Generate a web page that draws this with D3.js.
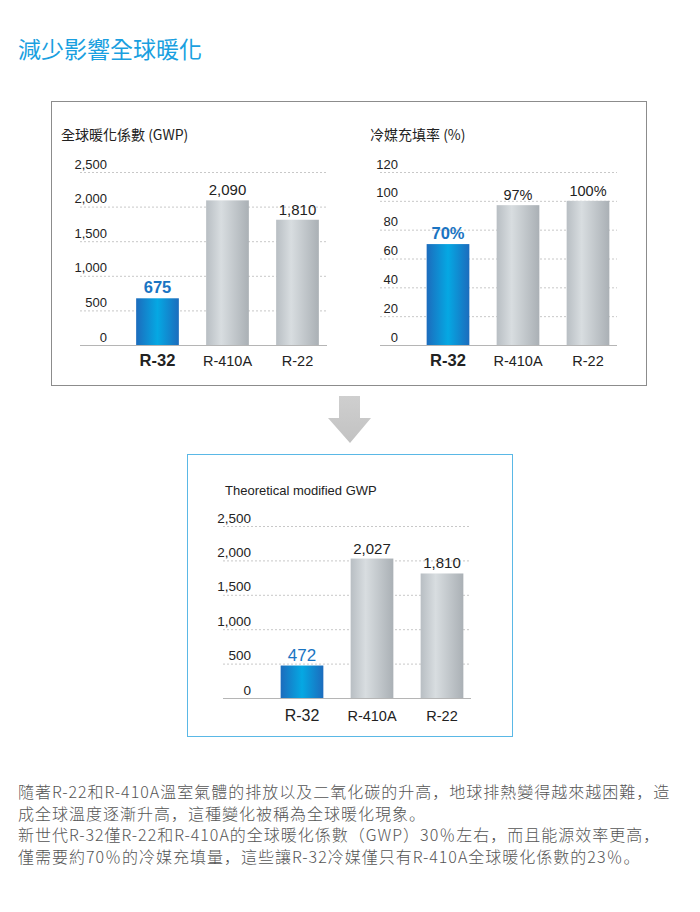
<!DOCTYPE html>
<html><head>
<meta charset="utf-8">
<script src="https://d3js.org/d3.v7.min.js"></script>
<style>
  body { margin: 0; background: #fff; }
  svg text { font-family: "Liberation Sans", Arial, sans-serif; }
  .cjk { font-family: "Noto Sans CJK TC", "Noto Sans", sans-serif; }
  .body-text { font-family: "Noto Sans CJK SC", "Noto Sans", sans-serif; }
</style>
</head>
<body>
<svg id="page" width="700" height="912"></svg>
<script>
  // data
  const categories = ["R-32", "R-410A", "R-22"];
  const gwpValues = [675, 2090, 1810];
  const gwpLabels = ["675", "2,090", "1,810"];
  const chargeValues = [70, 97, 100];
  const chargeLabels = ["70%", "97%", "100%"];
  const modifiedValues = [472, 2027, 1810];
  const modifiedLabels = ["472", "2,027", "1,810"];
  const gwpTicks = [0, 500, 1000, 1500, 2000, 2500];
  const chargeTicks = [0, 20, 40, 60, 80, 100, 120];
  const paragraph = [
    "隨著R-22和R-410A溫室氣體的排放以及二氧化碳的升高，地球排熱變得越來越困難，造",
    "成全球溫度逐漸升高，這種變化被稱為全球暖化現象。",
    "新世代R-32僅R-22和R-410A的全球暖化係數（GWP）30％左右，而且能源效率更高，",
    "僅需要約70％的冷媒充填量，這些讓R-32冷媒僅只有R-410A全球暖化係數的23％。"
  ];

  const svg = d3.select("#page");
  const defs = svg.append("defs");

  let blue = defs.append("linearGradient").attr("id", "gBlue");
  blue.append("stop").attr("offset", "0%").attr("stop-color", "#1c6cbd");
  blue.append("stop").attr("offset", "50%").attr("stop-color", "#05a8e3");
  blue.append("stop").attr("offset", "100%").attr("stop-color", "#1c6cbd");

  let gray = defs.append("linearGradient").attr("id", "gGray");
  gray.append("stop").attr("offset", "0%").attr("stop-color", "#b8bec3");
  gray.append("stop").attr("offset", "35%").attr("stop-color", "#d8dde0");
  gray.append("stop").attr("offset", "100%").attr("stop-color", "#aab0b5");

  let arrowG = defs.append("linearGradient").attr("id", "gArrow").attr("x1", 0).attr("y1", 0).attr("x2", 0).attr("y2", 1);
  arrowG.append("stop").attr("offset", "0%").attr("stop-color", "#cfcfcf");
  arrowG.append("stop").attr("offset", "100%").attr("stop-color", "#c2c2c2");

  // heading
  svg.append("text").attr("class", "cjk")
     .attr("x", 18).attr("y", 58)
     .attr("font-size", "23px").attr("fill", "#1a9fe0")
     .text("減少影響全球暖化");

  // boxes
  svg.append("rect").attr("x", 51.5).attr("y", 101.5).attr("width", 595).attr("height", 284)
     .attr("fill", "none").attr("stroke", "#8c8c8c");
  svg.append("rect").attr("x", 187.5).attr("y", 454.5).attr("width", 325).attr("height", 282)
     .attr("fill", "none").attr("stroke", "#5ab8e6");

  // arrow
  svg.append("path")
     .attr("d", "M339,396 L360,396 L360,418 L371,418 L350,443 L328,418 L339,418 Z")
     .attr("fill", "url(#gArrow)");

  function drawChart(o) {
    let g = svg.append("g");

    let x = d3.scaleBand().domain(categories).range(o.band).paddingInner(0.39).paddingOuter(0.195);
    let y = d3.scaleLinear().domain([0, o.max]).range([o.base, o.top]);

    // title
    g.append("text").attr("class", o.titleCjk ? "cjk" : null)
     .attr("x", o.titleX).attr("y", o.titleY)
     .attr("font-size", o.titleSize).attr("fill", "#222")
     .text(o.title);

    // grid + tick labels
    let axis = d3.axisLeft(y).tickValues(o.ticks).tickSize(-(o.gridX[1] - o.gridX[0]))
                 .tickFormat(d3.format(","));
    let ag = g.append("g").attr("transform", "translate(" + o.gridX[0] + ",0)").call(axis);
    ag.select(".domain").remove();
    ag.selectAll(".tick line")
      .attr("stroke", d => d === 0 ? "#b5b5b5" : "#c8c8c8")
      .attr("stroke-dasharray", d => d === 0 ? null : "2,2");
    ag.selectAll(".tick text")
      .attr("x", o.labelRight - o.gridX[0]).attr("dy", 0).attr("y", -4)
      .attr("font-size", o.tickSize).attr("fill", "#222")
      .style("font-family", "'Liberation Sans', Arial, sans-serif");

    // bars
    g.selectAll("rect.bar").data(o.values).enter().append("rect")
     .attr("class", "bar")
     .attr("x", (d, i) => x(categories[i]))
     .attr("width", x.bandwidth())
     .attr("y", d => y(d))
     .attr("height", d => y(0) - y(d))
     .attr("fill", (d, i) => i === 0 ? "url(#gBlue)" : "url(#gGray)");

    // value labels
    g.selectAll("text.val").data(o.values).enter().append("text")
     .attr("class", "val")
     .attr("x", (d, i) => x(categories[i]) + x.bandwidth() / 2)
     .attr("y", d => y(d) - 5)
     .attr("text-anchor", "middle")
     .attr("font-size", (d, i) => i === 0 ? o.firstValSize : o.valSize)
     .attr("font-weight", (d, i) => i === 0 && o.boldFirst ? "bold" : "normal")
     .attr("fill", (d, i) => i === 0 ? "#1a74c2" : "#222")
     .text((d, i) => o.labels[i]);

    // category labels
    g.selectAll("text.cat").data(categories).enter().append("text")
     .attr("class", "cat")
     .attr("x", d => x(d) + x.bandwidth() / 2)
     .attr("y", o.catY)
     .attr("text-anchor", "middle")
     .attr("font-size", (d, i) => i === 0 ? o.firstCatSize : "14.5px")
     .attr("font-weight", (d, i) => i === 0 && o.boldFirst ? "bold" : "normal")
     .attr("fill", "#222")
     .text(d => d);
  }

  drawChart({
    values: gwpValues, labels: gwpLabels, ticks: gwpTicks, max: 2500,
    band: [122.5, 332.5], base: 345, top: 172, gridX: [80, 327], labelRight: 107,
    title: "全球暖化係數 (GWP)", titleCjk: true, titleX: 61, titleY: 140, titleSize: "14px",
    tickSize: "13px", valSize: "15px", firstValSize: "16.5px", firstCatSize: "16.5px",
    catY: 366, boldFirst: true
  });

  drawChart({
    values: chargeValues, labels: chargeLabels, ticks: chargeTicks, max: 120,
    band: [413, 623], base: 345, top: 172, gridX: [380, 617], labelRight: 398,
    title: "冷媒充填率 (%)", titleCjk: true, titleX: 370, titleY: 140, titleSize: "14px",
    tickSize: "13px", valSize: "14.5px", firstValSize: "16.5px", firstCatSize: "16.5px",
    catY: 366, boldFirst: true
  });

  drawChart({
    values: modifiedValues, labels: modifiedLabels, ticks: gwpTicks, max: 2500,
    band: [267, 477], base: 698, top: 526, gridX: [223, 471], labelRight: 251,
    title: "Theoretical modified GWP", titleCjk: false, titleX: 225, titleY: 495, titleSize: "13px",
    tickSize: "13.5px", valSize: "15px", firstValSize: "17px", firstCatSize: "16px",
    catY: 721, boldFirst: false
  });

  // paragraph
  svg.append("g").selectAll("text").data(paragraph).enter().append("text")
     .attr("class", "body-text")
     .attr("x", 18)
     .attr("y", (d, i) => 798 + i * 21.7)
     .attr("font-size", "16px")
     .attr("letter-spacing", "1px")
     .attr("font-weight", 300)
     .attr("fill", "#555")
     .text(d => d);
</script>
</body></html>
